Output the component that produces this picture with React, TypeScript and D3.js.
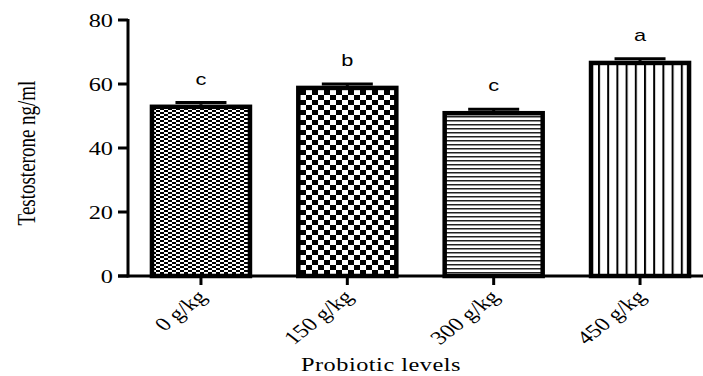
import React from 'react';
import * as d3 from 'd3';

const WIDTH = 703;
const HEIGHT = 376;

const categories = ['0 g/kg', '150 g/kg', '300 g/kg', '450 g/kg'];
const means = [53.5, 59.4, 51.5, 67.2];
const errors = [0.7, 0.6, 0.6, 0.7];
const letters = ['c', 'b', 'c', 'a'];
const yTicks = [0, 20, 40, 60, 80];
const patternIds = ['fineCheck', 'bigCheck', 'hLines', 'vLines'];

const serif = '"Liberation Serif", "Times New Roman", serif';
const sans = '"Liberation Sans", Arial, sans-serif';
// the source picture is stretched sideways, so text gets widened too
const SX = 1.28;

export default function App() {
  const y = d3.scaleLinear().domain([0, 80]).range([276, 20]);
  const x = d3
    .scaleBand<string>()
    .domain(categories)
    .range([128, 713])
    .paddingInner(0.303)
    .paddingOuter(0.15);
  const bw = x.bandwidth();

  return (
    <div style={{ position: 'absolute', left: 0, top: 0 }}>
      <svg width={WIDTH} height={HEIGHT} style={{ display: 'block', background: '#fff' }}>
        <defs>
          <pattern id="fineCheck" width={8} height={4} patternUnits="userSpaceOnUse">
            <rect width={8} height={4} fill="#fff" />
            <rect x={0} y={0} width={4} height={2} fill="#000" />
            <rect x={4} y={2} width={4} height={2} fill="#000" />
          </pattern>
          <pattern id="bigCheck" width={12} height={10} patternUnits="userSpaceOnUse">
            <rect width={12} height={10} fill="#fff" />
            <rect x={0} y={0} width={6} height={5} fill="#000" />
            <rect x={6} y={5} width={6} height={5} fill="#000" />
          </pattern>
          <pattern id="hLines" width={8} height={4} patternUnits="userSpaceOnUse">
            <rect width={8} height={4} fill="#fff" />
            <rect x={0} y={0} width={8} height={1.5} fill="#222" />
          </pattern>
          <pattern id="vLines" width={9.2} height={8} patternUnits="userSpaceOnUse">
            <rect width={9.2} height={8} fill="#fff" />
            <rect x={0} y={0} width={2} height={8} fill="#000" />
          </pattern>
        </defs>

        {/* bars */}
        {categories.map((c, i) => {
          const x0 = x(c)!;
          const cx = x0 + bw / 2;
          return (
            <g key={c}>
              <line x1={cx - bw / 4} x2={cx + bw / 4} y1={y(means[i] + errors[i])} y2={y(means[i] + errors[i])} stroke="#000" strokeWidth={3} />
              <line x1={cx} x2={cx} y1={y(means[i] + errors[i])} y2={y(means[i])} stroke="#000" strokeWidth={3} />
              <rect
                x={x0 + 2}
                y={y(means[i]) + 2}
                width={bw - 4}
                height={y(0) - y(means[i]) - 2}
                fill={`url(#${patternIds[i]})`}
                stroke="#000"
                strokeWidth={4.5}
              />
              <text
                transform={`translate(${cx},${y(means[i]) - 20}) scale(${SX},1)`}
                textAnchor="middle"
                fontFamily={sans}
                fontSize={17}
              >
                {letters[i]}
              </text>
            </g>
          );
        })}

        {/* y axis */}
        <line x1={128} x2={128} y1={y(80) - 1} y2={y(0) + 1.5} stroke="#000" strokeWidth={3} />
        {yTicks.map(t => (
          <g key={t}>
            <line x1={118} x2={128} y1={y(t)} y2={y(t)} stroke="#000" strokeWidth={3} />
            <text
              transform={`translate(113,${y(t)}) scale(${SX},1)`}
              dy="0.35em"
              textAnchor="end"
              fontFamily={serif}
              fontSize={19}
            >
              {t}
            </text>
          </g>
        ))}

        {/* x axis */}
        <line x1={118} x2={703} y1={y(0)} y2={y(0)} stroke="#000" strokeWidth={3} />
        {categories.map(c => {
          const cx = x(c)! + bw / 2;
          return (
            <g key={c}>
              <line x1={cx} x2={cx} y1={y(0)} y2={y(0) + 9} stroke="#000" strokeWidth={3} />
              <text
                transform={`translate(${cx + 7},${y(0) + 22}) scale(${SX},1) rotate(-45)`}
                textAnchor="end"
                fontFamily={serif}
                fontSize={19}
              >
                {c}
              </text>
            </g>
          );
        })}

        <text
          transform={`translate(381,371) scale(${SX},1)`}
          textAnchor="middle"
          fontFamily={serif}
          fontSize={19}
          letterSpacing={0.4}
        >
          Probiotic levels
        </text>
        <text
          transform={`translate(35,153) rotate(-90) scale(1,${SX})`}
          textAnchor="middle"
          fontFamily={serif}
          fontSize={19}
        >
          Testosterone ng/ml
        </text>
      </svg>
    </div>
  );
}
